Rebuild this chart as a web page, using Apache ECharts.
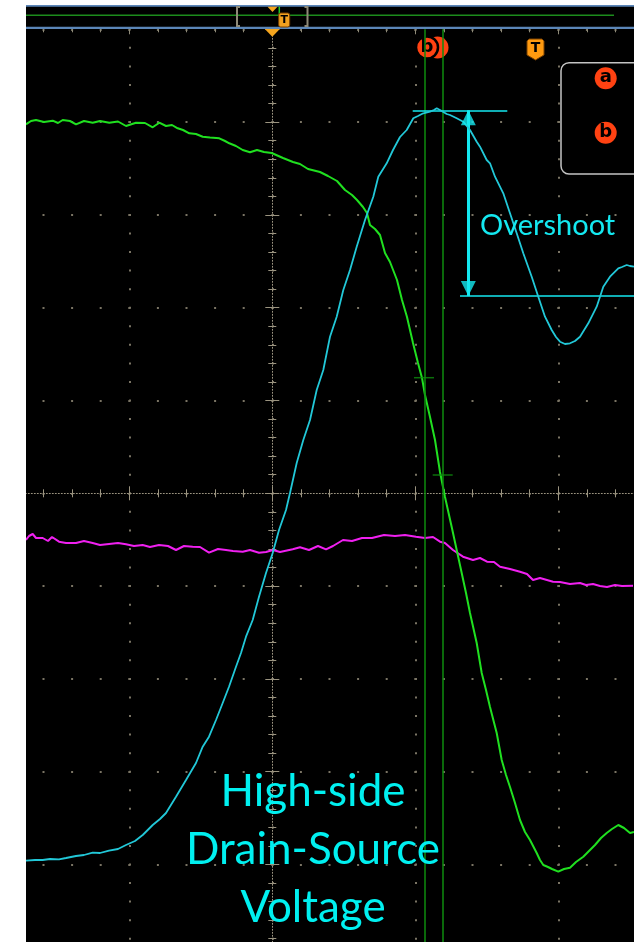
<!DOCTYPE html>
<html><head><meta charset="utf-8">
<script src="https://cdn.jsdelivr.net/npm/echarts@6/dist/echarts.min.js"></script>
<style>
html,body{margin:0;padding:0;background:#fff;width:634px;height:942px;overflow:hidden;}
#chart{position:absolute;left:26px;top:5px;width:608px;height:937px;background:#000;}
</style></head><body><div id="chart"></div>
<script>
// Graticule: one division = 1.43 time units horizontally, 0.928 units vertically
const xDiv = 1.43, yDiv = 0.928;
const xMin = -2.86, xMax = 4.29, yMin = -4.64, yMax = 4.64;

// Green trace
const greenT = [-2.463,-2.413,-2.363,-2.283,-2.196,-2.143,-2.096,-2.023,-1.963,-1.883,-1.796,-1.723,-1.63,-1.543,-1.463,-1.363,-1.273,-1.196,-1.13,-1.063,-1.003,-0.946,-0.893,-0.83,-0.763,-0.696,-0.623,-0.53,-0.473,-0.43,-0.363,-0.296,-0.223,-0.153,-0.083,-0.006,0.107,0.207,0.277,0.357,0.477,0.557,0.647,0.727,0.797,0.847,0.907,0.947,0.977,1.027,1.077,1.127,1.177,1.247,1.297,1.347,1.407,1.457,1.497,1.527,1.577,1.627,1.677,1.727,1.794,1.844,1.894,1.937,1.977,2.044,2.094,2.137,2.177,2.244,2.294,2.337,2.377,2.427,2.477,2.527,2.577,2.644,2.677,2.71,2.757,2.797,2.86,2.917,2.977,3.037,3.11,3.177,3.227,3.287,3.344,3.397,3.46,3.517,3.577,3.617];
const greenV = [3.69,3.723,3.733,3.713,3.726,3.703,3.733,3.723,3.69,3.723,3.706,3.723,3.706,3.718,3.673,3.706,3.703,3.66,3.706,3.673,3.683,3.65,3.633,3.6,3.593,3.566,3.558,3.55,3.523,3.5,3.473,3.433,3.41,3.433,3.413,3.403,3.353,3.313,3.293,3.243,3.213,3.173,3.123,3.033,2.983,2.933,2.863,2.803,2.683,2.643,2.583,2.403,2.313,2.133,1.933,1.763,1.503,1.303,1.153,0.983,0.763,0.533,0.213,-0.037,-0.337,-0.567,-0.797,-0.997,-1.197,-1.497,-1.797,-1.967,-2.137,-2.397,-2.667,-2.817,-2.937,-3.097,-3.267,-3.387,-3.467,-3.597,-3.667,-3.717,-3.737,-3.757,-3.784,-3.757,-3.744,-3.687,-3.634,-3.567,-3.517,-3.447,-3.397,-3.357,-3.317,-3.347,-3.397,-3.387];

// Cyan trace (high-side drain-source voltage)
const cyanT = [-2.463,-2.373,-2.296,-2.223,-2.133,-2.063,-1.963,-1.883,-1.796,-1.723,-1.633,-1.543,-1.463,-1.373,-1.296,-1.196,-1.123,-1.063,-0.963,-0.863,-0.763,-0.696,-0.633,-0.563,-0.496,-0.433,-0.363,-0.313,-0.263,-0.196,-0.133,-0.063,0.004,0.067,0.137,0.177,0.244,0.31,0.377,0.444,0.51,0.577,0.644,0.71,0.777,0.844,0.927,1.01,1.06,1.144,1.207,1.277,1.344,1.41,1.457,1.51,1.577,1.617,1.644,1.677,1.744,1.777,1.844,1.91,1.977,2.044,2.077,2.144,2.177,2.227,2.31,2.377,2.444,2.51,2.594,2.66,2.727,2.794,2.837,2.877,2.927,2.977,3.027,3.077,3.16,3.244,3.31,3.377,3.46,3.497,3.544,3.577,3.617];
const cyanV = [-3.674,-3.667,-3.667,-3.657,-3.66,-3.647,-3.627,-3.617,-3.594,-3.597,-3.574,-3.557,-3.517,-3.477,-3.417,-3.317,-3.257,-3.197,-3.034,-2.867,-2.697,-2.534,-2.434,-2.267,-2.097,-1.934,-1.734,-1.597,-1.434,-1.267,-1.034,-0.797,-0.597,-0.367,-0.167,0.003,0.303,0.533,0.733,1.033,1.233,1.566,1.766,2.033,2.233,2.466,2.733,2.966,3.166,3.3,3.433,3.563,3.633,3.75,3.773,3.8,3.816,3.833,3.85,3.833,3.793,3.783,3.75,3.716,3.633,3.516,3.466,3.333,3.3,3.166,3.0,2.8,2.6,2.4,2.166,1.966,1.766,1.633,1.563,1.516,1.493,1.5,1.523,1.566,1.7,1.866,2.066,2.166,2.25,2.263,2.283,2.273,2.266];

// Magenta trace
const magentaT = [-2.463,-2.433,-2.396,-2.363,-2.296,-2.243,-2.203,-2.133,-2.063,-1.963,-1.883,-1.796,-1.723,-1.633,-1.543,-1.463,-1.383,-1.296,-1.223,-1.133,-1.043,-0.963,-0.883,-0.796,-0.723,-0.633,-0.543,-0.463,-0.393,-0.296,-0.223,-0.133,-0.063,0.007,0.077,0.204,0.277,0.367,0.457,0.537,0.607,0.707,0.797,0.897,0.997,1.117,1.227,1.327,1.437,1.527,1.607,1.677,1.727,1.807,1.907,2.007,2.077,2.147,2.217,2.277,2.377,2.477,2.547,2.607,2.677,2.807,2.877,2.977,3.077,3.137,3.207,3.277,3.347,3.427,3.497,3.607];
const magentaV = [-0.467,-0.427,-0.407,-0.447,-0.447,-0.477,-0.437,-0.484,-0.497,-0.497,-0.477,-0.497,-0.517,-0.507,-0.497,-0.51,-0.527,-0.517,-0.537,-0.517,-0.527,-0.567,-0.527,-0.534,-0.537,-0.594,-0.557,-0.567,-0.577,-0.584,-0.567,-0.594,-0.587,-0.567,-0.587,-0.56,-0.54,-0.567,-0.527,-0.56,-0.527,-0.467,-0.477,-0.447,-0.447,-0.417,-0.427,-0.417,-0.434,-0.447,-0.437,-0.484,-0.497,-0.567,-0.634,-0.667,-0.647,-0.684,-0.687,-0.734,-0.757,-0.784,-0.807,-0.867,-0.847,-0.884,-0.887,-0.907,-0.897,-0.917,-0.907,-0.927,-0.937,-0.917,-0.927,-0.924];

// Cursors (a, b) and their crossing marks
const cursorT = [1.517, 1.704];
const cursorV = [1.156, 0.183];
const cursorNames = ['b', 'a'];

// Overshoot measurement
const overshootTop = 3.83, overshootBase = 1.973;
const overshootTopSpan = [1.404, 2.35];
const overshootBaseSpan = [1.877, 4.29];
const arrowT = 1.96;

const labelLines = ['High-side', 'Drain-Source', 'Voltage'];
const annotationText = 'Overshoot';
const legendKeys = ['a', 'b'];

const zip = (a, b) => a.map((t, i) => [t, b[i]]);

const gridDot = '#7a7464';
const graticule = '#9b9480';
const cyanAnno = '#14e8f0';
const markerRed = '#ff4212';

function centerAxisX(pos) {
  return {
    type: 'value', min: xMin, max: xMax, interval: xDiv, position: pos,
    axisLine: {show: pos === 'bottom', onZero: true, onZeroAxisIndex: 0,
      lineStyle: {color: graticule, width: 1, type: [1, 2]}},
    axisTick: {show: true, length: 7, inside: false, lineStyle: {color: graticule, width: 1}},
    minorTick: {show: true, splitNumber: 5, length: 4, lineStyle: {color: graticule, width: 1}},
    axisLabel: {show: false},
    splitLine: pos === 'bottom'
      ? {show: true, lineStyle: {color: gridDot, width: 2, type: [2, 16.56], dashOffset: 1}}
      : {show: false},
    minorSplitLine: {show: false}
  };
}
function centerAxisY(pos) {
  return {
    type: 'value', min: yMin, max: yMax, interval: yDiv, position: pos,
    axisLine: {show: pos === 'left', onZero: true, onZeroAxisIndex: 0,
      lineStyle: {color: graticule, width: 1, type: [1, 2]}},
    axisTick: {show: true, length: 7, inside: false, lineStyle: {color: graticule, width: 1}},
    minorTick: {show: true, splitNumber: 5, length: 4, lineStyle: {color: graticule, width: 1}},
    axisLabel: {show: false},
    splitLine: pos === 'left'
      ? {show: true, lineStyle: {color: gridDot, width: 2, type: [2, 26.6], dashOffset: 1}}
      : {show: false},
    minorSplitLine: {show: false}
  };
}

const topEdgeAxis = {
  type: 'value', min: xMin, max: xMax, interval: xDiv, position: 'top',
  axisLine: {show: false, onZero: false},
  axisTick: {show: true, inside: true, length: 5, lineStyle: {color: '#8e8a78', width: 1}},
  minorTick: {show: true, splitNumber: 5, length: 3, lineStyle: {color: '#8e8a78', width: 1}},
  axisLabel: {show: false}, splitLine: {show: false}
};

const chart = echarts.init(document.getElementById('chart'), null, {renderer: 'canvas'});

const graphics = [
  // top status strip
  {type: 'rect', z: 100, shape: {x: 0, y: 0, width: 608, height: 1.7}, style: {fill: '#5b86b8'}},
  {type: 'line', z: 100, shape: {x1: 0, y1: 10.3, x2: 588, y2: 10.3}, style: {stroke: '#1c8c1c', lineWidth: 1.5}},
  {type: 'rect', z: 100, shape: {x: 0, y: 21.8, width: 608, height: 2.2}, style: {fill: '#5b86b8'}},
  {type: 'polyline', z: 100, shape: {points: [[214, 2], [211, 2], [211, 21], [214, 21]]}, style: {stroke: '#8e8a78', lineWidth: 2, fill: null}},
  {type: 'polyline', z: 100, shape: {points: [[278.5, 2], [281.5, 2], [281.5, 21], [278.5, 21]]}, style: {stroke: '#8e8a78', lineWidth: 2, fill: null}},
  {type: 'polygon', z: 101, shape: {points: [[241.5, 1.7], [251.5, 1.7], [246.5, 7]]}, style: {fill: '#f5a51e'}},
  {type: 'line', z: 101, shape: {x1: 253.3, y1: 1.7, x2: 253.3, y2: 10}, style: {stroke: '#22cc22', lineWidth: 1.5}},
  {type: 'rect', z: 102, shape: {x: 252.7, y: 8, width: 11, height: 14, r: 2}, style: {fill: '#f0a020', stroke: '#7a4000', lineWidth: 1}},
  {type: 'text', z: 103, x: 258.2, y: 15.5, style: {text: 'T', fill: '#000', font: 'bold 11px "DejaVu Sans"', textAlign: 'center', textVerticalAlign: 'middle', verticalAlign: 'middle'}},
  {type: 'polygon', z: 101, shape: {points: [[238.8, 24], [253.8, 24], [246.3, 31.7]]}, style: {fill: '#f5a51e'}},
  // cursor label "b)"
  {type: 'circle', z: 1, shape: {cx: 411.5, cy: 42.5, r: 11}, style: {fill: markerRed}},
  {type: 'circle', z: 1, shape: {cx: 401, cy: 42.5, r: 11}, style: {fill: markerRed, stroke: '#000', lineWidth: 2.5}},
  {type: 'text', z: 1, x: 401, y: 42, style: {text: cursorNames[0], fill: '#000', font: 'bold 18px "DejaVu Sans"', textAlign: 'center', textVerticalAlign: 'middle', verticalAlign: 'middle'}},
  // trigger marker
  {type: 'polygon', z: 1, shape: {points: [[501, 36], [503, 34], [516, 34], [518, 36], [518, 50], [509.5, 55], [501, 50]]}, style: {fill: '#ff9a10', stroke: '#7a4000', lineWidth: 1}},
  {type: 'text', z: 1, x: 509.5, y: 43.5, style: {text: 'T', fill: '#000', font: 'bold 14px "DejaVu Sans"', textAlign: 'center', textVerticalAlign: 'middle', verticalAlign: 'middle'}},
  // cursor legend box
  {type: 'rect', z: 1, shape: {x: 535, y: 57.7, width: 120, height: 111.3, r: 8}, style: {fill: '#000', stroke: '#c4c4c4', lineWidth: 1.5}},
  {type: 'circle', z: 1, shape: {cx: 579.7, cy: 73.3, r: 11}, style: {fill: markerRed}},
  {type: 'text', z: 1, x: 579.7, y: 72.5, style: {text: legendKeys[0], fill: '#000', font: 'bold 18px "DejaVu Sans"', textAlign: 'center', textVerticalAlign: 'middle', verticalAlign: 'middle'}},
  {type: 'circle', z: 1, shape: {cx: 579.7, cy: 127.7, r: 11}, style: {fill: markerRed}},
  {type: 'text', z: 1, x: 579.7, y: 127, style: {text: legendKeys[1], fill: '#000', font: 'bold 18px "DejaVu Sans"', textAlign: 'center', textVerticalAlign: 'middle', verticalAlign: 'middle'}},
  // annotations
  {type: 'text', z: 100, x: 454, y: 221, style: {text: annotationText, fill: cyanAnno, font: '29px Lato', textAlign: 'left', textVerticalAlign: 'middle', verticalAlign: 'middle'}}
];
labelLines.forEach((s, i) => {
  graphics.push({type: 'text', z: 100, x: 287, y: 787 + i * 58,
    style: {text: s, fill: '#00f0f0', font: '44px Lato', textAlign: 'center', textVerticalAlign: 'middle', verticalAlign: 'middle'}});
});

chart.setOption({
  backgroundColor: '#000',
  animation: false,
  grid: {left: -39.7, right: -67.3, top: 24.3, bottom: -15.3, containLabel: false, outerBoundsMode: 'none', show: false},
  xAxis: [centerAxisX('bottom'), centerAxisX('top'), topEdgeAxis],
  yAxis: [centerAxisY('left'), centerAxisY('right')],
  graphic: {elements: graphics},
  series: [
    {
      type: 'line', name: 'Ch magenta', data: zip(magentaT, magentaV), showSymbol: false, z: 3,
      lineStyle: {color: '#f020f0', width: 2}, silent: true
    },
    {
      type: 'line', name: 'Ch green', data: zip(greenT, greenV), showSymbol: false, z: 4,
      lineStyle: {color: '#20e020', width: 2}, silent: true,
      markLine: {
        silent: true, symbol: ['none', 'none'], label: {show: false},
        lineStyle: {color: '#0e8c0e', width: 1.5, type: 'solid'},
        data: cursorT.map(t => ({xAxis: t}))
      }
    },
    {
      type: 'line', name: 'Ch cyan', data: zip(cyanT, cyanV), showSymbol: false, z: 5,
      lineStyle: {color: '#22c8d8', width: 1.8}, silent: true,
      markLine: {
        silent: true, symbol: ['none', 'none'], label: {show: false},
        lineStyle: {color: cyanAnno, width: 1.5, type: 'solid'},
        data: [
          [{coord: [overshootTopSpan[0], overshootTop]}, {coord: [overshootTopSpan[1], overshootTop]}],
          [{coord: [overshootBaseSpan[0], overshootBase]}, {coord: [overshootBaseSpan[1], overshootBase]}],
          [{coord: [arrowT, overshootTop], lineStyle: {width: 3, color: cyanAnno}}, {coord: [arrowT, overshootBase]}]
        ]
      }
    },
    {
      type: 'scatter', name: 'arrow top', data: [[arrowT, overshootTop]], symbol: 'triangle',
      symbolSize: [15, 15], symbolOffset: [0, '50%'], itemStyle: {color: cyanAnno}, z: 6, silent: true
    },
    {
      type: 'scatter', name: 'arrow bottom', data: [[arrowT, overshootBase]], symbol: 'triangle',
      symbolSize: [15, 15], symbolRotate: 180, symbolOffset: [0, '-50%'], itemStyle: {color: cyanAnno}, z: 6, silent: true
    },
    {
      type: 'scatter', name: 'cursor marks', data: zip(cursorT, cursorV), symbol: 'rect',
      symbolSize: [20, 1.5], itemStyle: {color: '#0e8c0e'}, z: 6, silent: true
    }
  ]
});
</script>
</body></html>
